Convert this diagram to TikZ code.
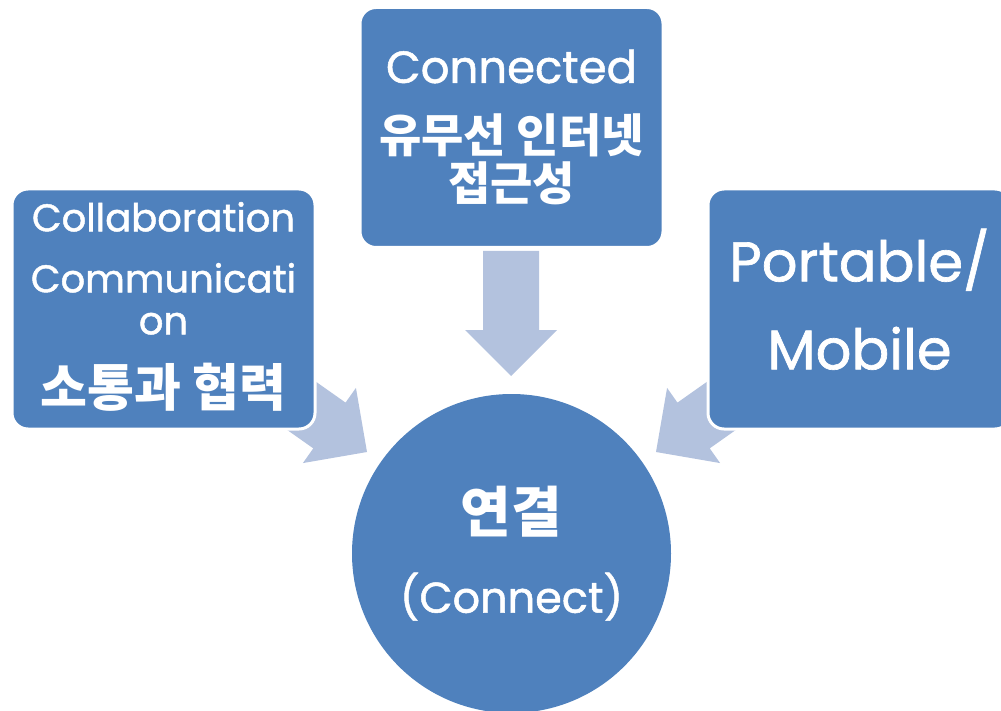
\documentclass[tikz,border=0pt]{standalone}
\usepackage{fontspec}
\setmainfont{Poppins}[FakeBold=1.2,AutoFakeBold=1.2]
\newfontfamily\kr{Noto Sans CJK KR}
\usetikzlibrary{positioning}

\definecolor{boxblue}{RGB}{79,129,189}
\definecolor{arrowblue}{RGB}{179,194,222}

\tikzset{
  topic/.style={rectangle, rounded corners=16pt, fill=boxblue, draw=white,
                line width=3pt, text=white, align=center, inner sep=0pt,
                minimum width=303pt, minimum height=240pt},
  hub/.style={circle, fill=boxblue, text=white, align=center, inner sep=0pt,
              minimum size=319pt},
  bigarrow/.pic={\fill[arrowblue] (0,0) -- (-46,46) -- (-46,28) -- (-125,28)
                 -- (-125,-28) -- (-46,-28) -- (-46,-46) -- cycle;}
}

\begin{document}
\begin{tikzpicture}[x=1pt,y=-1pt]
  \useasboundingbox (0,0) rectangle (1001,711);

  % arrows first, the boxes cover their tails
  \pic[rotate=-90]    at (511,376) {bigarrow};
  \pic[rotate=-35.2]  at (367,452) {bigarrow};
  \pic[rotate=-144.8] at (656,452) {bigarrow};

  \node[topic, font=\fontsize{40}{48}\selectfont] (net) at (511.5,127.5)
    {{\fontsize{45}{45}\selectfont\bfseries Connected}\\[22pt]
     {\kr\bfseries\fontsize{46}{46}\selectfont 유무선 인터넷}\\
     {\kr\bfseries\fontsize{46}{46}\selectfont 접근성}};
  % the rules in the last lines lift the text a little
  \node[topic, font=\fontsize{36}{42}\selectfont] (collab) at (163.5,309)
    {{\fontsize{38.5}{38.5}\selectfont\bfseries Collaboration}\\[19pt]
     {\fontsize{38.5}{38.5}\selectfont\bfseries Communicati}\\
     {\fontsize{38.5}{38.5}\selectfont\bfseries on}\\[27pt]
     {\kr\bfseries\fontsize{51}{51}\selectfont 소통과 협력\rule[-10pt]{0pt}{1pt}}};
  \node[topic, font=\fontsize{56}{88}\selectfont] (mobile) at (859.5,309)
    {\bfseries Portable/\\\bfseries Mobile\rule[-20pt]{0pt}{1pt}};

  \node[hub, font=\fontsize{40}{80}\selectfont] (conn) at (511.5,553.5)
    {{\kr\bfseries\fontsize{55}{55}\selectfont 연결}\\
     {\fontsize{43}{43}\selectfont\bfseries (Connect)}};
\end{tikzpicture}
\end{document}
